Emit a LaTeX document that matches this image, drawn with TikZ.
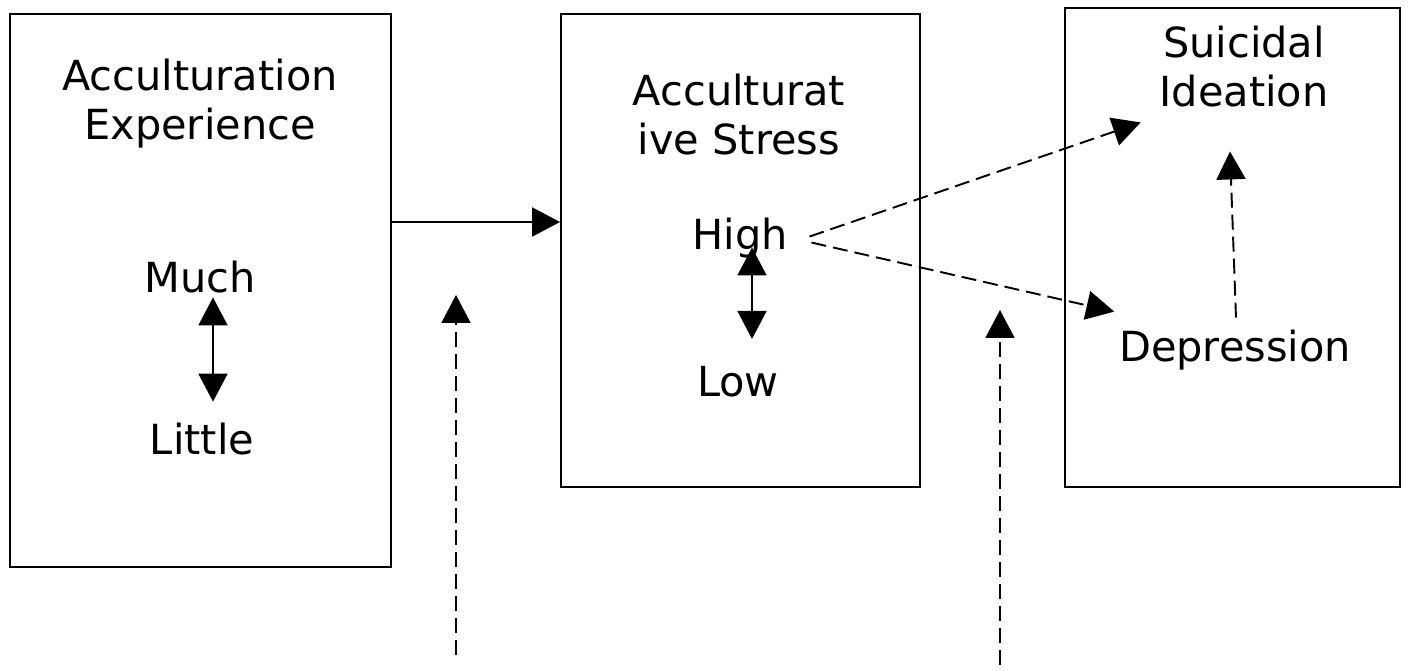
\documentclass[tikz,border=0pt]{standalone}
\usepackage{fontspec}
\setmainfont{DejaVu Sans}
\usetikzlibrary{arrows.meta}

\begin{document}
\begin{tikzpicture}[x=0.02cm, y=-0.02cm,
    box/.style={draw, line width=1.1pt, inner sep=0pt},
    txt/.style={inner sep=2pt, font=\fontsize{23.6pt}{28.45pt}\selectfont},
    title/.style={txt, align=center, anchor=base},
    link/.style={line width=1.1pt, -{Triangle[length=0.56cm, width=0.58cm]}},
    both/.style={line width=1.1pt, {Triangle[length=0.56cm, width=0.58cm]}-{Triangle[length=0.56cm, width=0.58cm]}},
    dlink/.style={link, dash pattern=on 0.3cm off 0.14cm}]
  \useasboundingbox (0,0) rectangle (1411,671);

  % boxes
  \node[box, minimum width=7.62cm, minimum height=11.06cm] (expbox) at (200.5,290.5) {};
  \node[box, minimum width=7.18cm, minimum height=9.46cm] (stressbox) at (740.5,250.5) {};
  \node[box, minimum width=6.7cm, minimum height=9.58cm] (outbox) at (1232.5,247.5) {};

  % titles (base = last line)
  \node[title] (exp) at (200,140) {Acculturation\\Experience};
  \node[title] (stress) at (739,155) {Acculturat\\ive Stress};
  \node[title] (ideation) at (1244,107) {Suicidal\\Ideation};

  % levels
  \node[txt, anchor=base] (much) at (200,293) {Much};
  \node[txt, anchor=base] (little) at (202,455) {Little};
  \node[txt, anchor=base] (high) at (740,250) {High};
  \node[txt, anchor=base] (low) at (738,397) {Low};
  \node[txt, anchor=base] (depr) at (1235,362) {Depression};

  \draw[both] ([shift={(13,0)}]much.south) -- ([shift={(11,-18)}]little.north);
  \draw[both] ([shift={(12,-15)}]high.south) -- ([shift={(14,-24)}]low.north);

  % paths
  \draw[link] (expbox.east |- 0,222) -- (stressbox.west |- 0,222);
  \draw[dlink] ([shift={(18,-2)}]high.east) -- ([shift={(-15,11)}]ideation.south west);
  \draw[dlink] ([shift={(20,4)}]high.east) -- ([shift={(-1,-15)}]depr.north west);
  \draw[dlink] ([shift={(1,-9)}]depr.north) -- ([shift={(-14,40)}]ideation.south);

  % moderators
  \coordinate (mod1) at (456,655);
  \coordinate (mod1top) at (456,295);
  \coordinate (mod2) at (1000,665);
  \coordinate (mod2top) at (1000,310);
  \draw[dlink] (mod1) -- (mod1top);
  \draw[dlink] (mod2) -- (mod2top);
\end{tikzpicture}
\end{document}
